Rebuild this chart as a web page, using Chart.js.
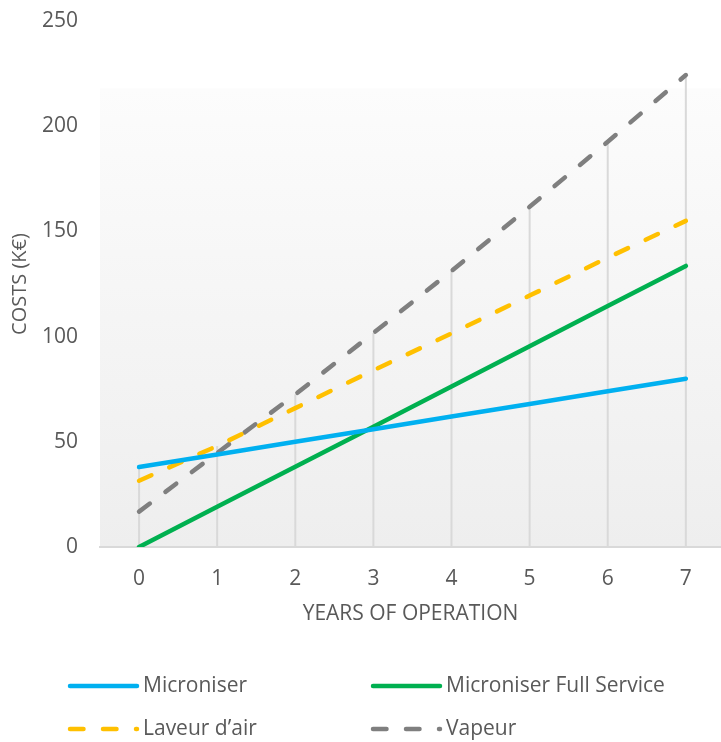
<!DOCTYPE html>
<html>
<head>
<meta charset="utf-8">
<title>Costs over years of operation</title>
<script src="https://cdn.jsdelivr.net/npm/chart.js@4.4.1/dist/chart.umd.min.js"></script>
<style>
  html, body { margin: 0; padding: 0; background: #fff; }
  #wrap { width: 721px; height: 742px; position: relative; }
</style>
</head>
<body>
<div id="wrap"><canvas id="costChart"></canvas></div>
<script>
// Data
const years = [0, 1, 2, 3, 4, 5, 6, 7];
const seriesNames = ['Microniser', 'Microniser Full Service', 'Laveur d’air', 'Vapeur'];
const microniser = [38, 44, 50, 56, 62, 68, 74, 80];
const fullService = [0, 19.1, 38.2, 57.2, 76.3, 95.4, 114.5, 133.6];
const laveurAir = [31.5, 48, 66, 84, 101.5, 119.5, 137.5, 155];
const vapeur = [16.8, 44.7, 72.5, 101.7, 131.2, 161.7, 192.6, 224.3];
const yTicks = [0, 50, 100, 150, 200, 250];

const textColor = '#595959';
const fontFamily = "'Open Sans', 'Noto Sans', sans-serif";
Chart.defaults.font.family = fontFamily;
Chart.defaults.color = textColor;

const toPoints = (arr) => years.map((x, i) => ({ x: x, y: arr[i] }));

// Soft grey gradient behind the plot (Excel style)
const plotBg = {
  id: 'plotBg',
  beforeDraw(chart) {
    const { ctx, chartArea: a } = chart;
    const top = a.top + (a.bottom - a.top) * 0.128;
    const g = ctx.createLinearGradient(0, top, 0, a.bottom);
    g.addColorStop(0, '#fcfcfc');
    g.addColorStop(1, '#eeeeee');
    ctx.save();
    ctx.fillStyle = g;
    ctx.fillRect(a.left, top, a.right - a.left, a.bottom - top);
    ctx.restore();
  }
};

// Drop lines: from the axis up to the highest series at each year
const dropLines = {
  id: 'dropLines',
  beforeDatasetsDraw(chart) {
    const { ctx, scales: { x, y } } = chart;
    ctx.save();
    ctx.strokeStyle = '#d9d9d9';
    ctx.lineWidth = 2;
    years.forEach((yr, i) => {
      const top = Math.max(...chart.data.datasets.map(ds => ds.data[i].y));
      const px = x.getPixelForValue(yr);
      ctx.beginPath();
      ctx.moveTo(px, y.getPixelForValue(0));
      ctx.lineTo(px, y.getPixelForValue(top));
      ctx.stroke();
    });
    ctx.restore();
  }
};

// Two-column legend under the axis title
const twoColLegend = {
  id: 'twoColLegend',
  afterDraw(chart) {
    const { ctx } = chart;
    const cols = [68, 371];
    const rows = [686, 729];
    const sampleLen = 69;
    ctx.save();
    ctx.font = '21px ' + fontFamily;
    ctx.textBaseline = 'middle';
    ctx.textAlign = 'left';
    chart.data.datasets.forEach((ds, i) => {
      const lx = cols[i % 2];
      const ly = rows[Math.floor(i / 2)];
      ctx.strokeStyle = ds.borderColor;
      ctx.lineWidth = 4.5;
      ctx.lineCap = 'round';
      ctx.setLineDash(ds.borderDash || []);
      ctx.beginPath();
      ctx.moveTo(lx + 2, ly);
      ctx.lineTo(lx + sampleLen, ly);
      ctx.stroke();
      ctx.setLineDash([]);
      ctx.fillStyle = textColor;
      ctx.fillText(ds.label, lx + sampleLen + 6, ly);
    });
    ctx.restore();
  }
};

const dash = [13.5, 19.5];

new Chart(document.getElementById('costChart'), {
  type: 'line',
  data: {
    datasets: [
      { label: seriesNames[0], data: toPoints(microniser), borderColor: '#00b0f0' },
      { label: seriesNames[1], data: toPoints(fullService), borderColor: '#00b050' },
      { label: seriesNames[2], data: toPoints(laveurAir), borderColor: '#ffc000', borderDash: dash },
      { label: seriesNames[3], data: toPoints(vapeur), borderColor: '#7f7f7f', borderDash: dash }
    ]
  },
  options: {
    responsive: true,
    maintainAspectRatio: false,
    animation: false,
    layout: { padding: { top: 21, bottom: 105, left: 0, right: 0 } },
    plugins: {
      legend: { display: false },
      tooltip: { enabled: false }
    },
    elements: {
      point: { radius: 0, hoverRadius: 0 },
      line: { tension: 0, borderWidth: 4.5, borderCapStyle: 'round', fill: false }
    },
    scales: {
      x: {
        type: 'linear',
        min: -0.5,
        max: 7.45,
        afterBuildTicks: (s) => { s.ticks = years.map(v => ({ value: v })); },
        afterFit: (s) => { s.height = 90; s.paddingLeft = 0; s.paddingRight = 0; },
        grid: { display: false, drawTicks: false },
        border: { color: '#d9d9d9', width: 2 },
        ticks: { color: textColor, font: { size: 21 }, padding: 19 },
        title: {
          display: true,
          text: 'YEARS OF OPERATION',
          color: textColor,
          font: { size: 21 },
          padding: { top: 0, bottom: 10 }
        }
      },
      y: {
        min: 0,
        max: 250,
        afterBuildTicks: (s) => { s.ticks = yTicks.map(v => ({ value: v })); },
        afterFit: (s) => { s.width = 100; s.paddingTop = 0; s.paddingBottom = 0; },
        grid: { display: false, drawTicks: false },
        border: { display: false },
        ticks: { color: textColor, font: { size: 21 }, padding: 22 },
        title: {
          display: true,
          text: 'COSTS (K€)',
          color: textColor,
          font: { size: 20 },
          padding: { top: 8, bottom: 0 }
        }
      }
    }
  },
  plugins: [plotBg, dropLines, twoColLegend]
});
</script>
</body>
</html>
